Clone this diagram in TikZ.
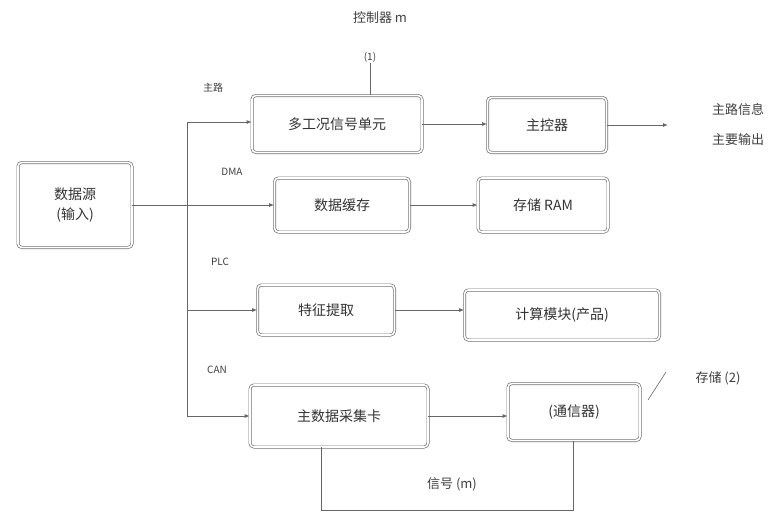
\documentclass[tikz,border=0pt]{standalone}
\usepackage{fontspec}
\setmainfont{Liberation Sans}
\newfontfamily\cjk{Noto Sans CJK SC}
\usetikzlibrary{arrows.meta}
\begin{document}
\begin{tikzpicture}[x=1pt,y=-1pt,
  blk/.style={draw=black!55, line width=0.7pt, double=white, double distance=1.6pt,
    rounded corners=4pt, minimum height=#1, align=center, font=\cjk\fontsize{14}{20}\selectfont, text=black!80, inner sep=2pt},
  blk/.default=54pt,
  lbl/.style={font=\cjk\fontsize{13}{16}\selectfont, text=black!75, inner sep=1pt},
  slbl/.style={font=\cjk\fontsize{10}{13}\selectfont, text=black!75, inner sep=1pt},
  conn/.style={draw=black!60, line width=0.9pt},
  arr/.style={conn, -{Latex[length=5pt,width=4pt]}}]
\useasboundingbox (0,0) rectangle (782,520);
\fill[white] (0,0) rectangle (782,520);

% boxes
\node[blk=85pt, minimum width=114pt] (L)  at (75,205)  {数据源\\(输入)};
\node[blk=57pt, minimum width=170pt] (B1) at (337,124) {多工况信号单元};
\node[blk=55pt, minimum width=119pt] (B2) at (547,125) {主控器};
\node[blk=54pt, minimum width=135pt] (B3) at (342,205) {数据缓存};
\node[blk=54pt, minimum width=130pt] (B4) at (543,205) {存储 RAM};
\node[blk=50pt, minimum width=137pt] (B5) at (326,310) {特征提取};
\node[blk=50pt, minimum width=195pt] (B6) at (562,315) {计算模块(产品)};
\node[blk=62pt, minimum width=178pt] (B7) at (339,416) {主数据采集卡};
\node[blk=57pt, minimum width=132pt] (B8) at (574,412) {(通信器)};

% labels
\node[lbl] (top) at (380,18) {控制器 m};
\node[slbl] (one) at (370,57) {(1)};
\node[slbl] (zl)  at (213,88) {主路};
\node[slbl] (dma) at (232,172) {DMA};
\node[slbl] (plc) at (220,262) {PLC};
\node[slbl] (can) at (217,370) {CAN};
\node[lbl] (out1) at (738,110) {主路信息};
\node[lbl] (out2) at (738,140) {主要输出};
\node[lbl] (st2) at (718,378) {存储 (2)};
\node[lbl] (sig) at (452,484) {信号 (m)};

% trunk
\coordinate (t1) at (187,122);
\coordinate (t3) at (187,205);
\coordinate (t5) at (187,310);
\coordinate (t7) at (187,416);
\draw[conn] (t1) -- (t7);
\draw[arr] (t1) -- (t1 -| B1.west);
\draw[conn] (L.east) -- (t3);
\draw[arr] (t3) -- (B3.west);
\draw[arr] (t5) -- (B5.west);
\draw[arr] (t7) -- (B7.west);

% horizontal links
\draw[arr] (B1.east) -- (B1.east -| B2.west);
\draw[arr] (B3.east) -- (B4.west);
\draw[arr] (B5.east) -- (B5.east -| B6.west);
\draw[arr] (B7.east) -- (B7.east -| B8.west);
\coordinate (oe) at (668,125);
\draw[arr] (B2.east) -- (oe);

% leaders
\draw[conn, line width=0.6pt] (one.south) -- (B1.north -| one.south);
\coordinate (la) at (648,400);
\coordinate (lb) at (666,372);
\draw[conn, line width=0.6pt] (la) -- (lb);

% bottom loop
\coordinate (bl) at (321,510);
\coordinate (br) at (573,510);
\draw[conn] (B7.south -| bl) -- (bl) -- (br) -- (B8.south -| br);
\end{tikzpicture}
\end{document}
